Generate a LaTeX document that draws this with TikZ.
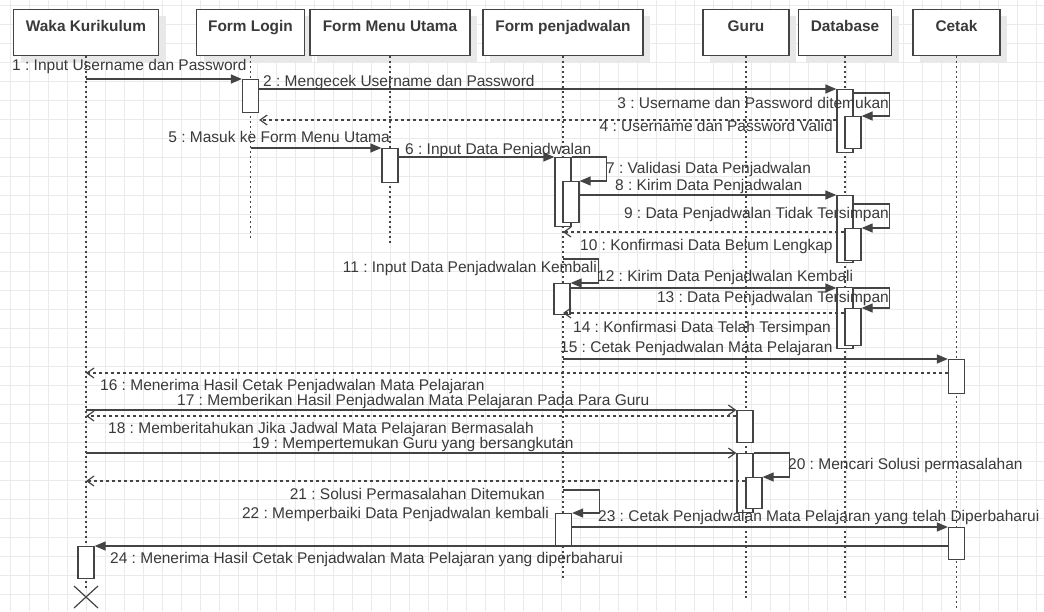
\documentclass[tikz,border=0pt]{standalone}
\usepackage{fontspec}
\setmainfont{Liberation Sans}
\usetikzlibrary{arrows.meta,shadows}
\definecolor{ink}{HTML}{444444}
\definecolor{txt}{HTML}{3A3A3A}
\definecolor{gridc}{HTML}{EAEAEA}
\definecolor{shadowc}{HTML}{E8E8E8}
\frenchspacing
\begin{document}
\begin{tikzpicture}[x=1pt,y=-1pt,
  font=\fontsize{15.5}{18}\selectfont, text=txt,
  hdr/.style={draw=ink, line width=1.3pt, fill=white, anchor=north, inner xsep=0pt, inner ysep=0pt,
    minimum height=46pt, text height=21.5pt, text depth=24.5pt,
    font=\fontsize{15.4}{18}\selectfont\bfseries,
    drop shadow={shadow xshift=7pt, shadow yshift=-6pt, fill=shadowc, opacity=1}},
  act/.style={draw=ink, line width=1.3pt, fill=white, minimum width=16pt, inner sep=0pt, anchor=north},
  life/.style={draw=ink, line width=1.5pt, dash pattern=on 2pt off 3pt},
  sync/.style={draw=ink, line width=1.3pt, -{Triangle[length=11pt,width=9pt]}},
  asyn/.style={draw=ink, line width=1.3pt, -{Straight Barb[length=7pt,width=10pt,line width=1.2pt]}},
  ret/.style={draw=ink, line width=1.3pt, dash pattern=on 3pt off 3pt, -{Straight Barb[length=7pt,width=10pt,line width=1.2pt,sep=0pt]}},
  lbl/.style={inner sep=0pt, text height=11pt, text depth=3pt}
]
\path[use as bounding box, fill=white] (0,0) rectangle (1044,611);
% grid
\foreach \gx in {10,29,...,1044} \draw[gridc, line width=0.8pt] (\gx,0) -- (\gx,611);
\foreach \gy in {5,24,...,611} \draw[gridc, line width=0.8pt] (0,\gy) -- (1044,\gy);

% headers
\node[hdr, minimum width=145pt] (hW) at (86,9) {Waka Kurikulum};
\node[hdr, minimum width=108pt] (hL) at (250.5,9) {Form Login};
\node[hdr, minimum width=160pt] (hM) at (390,9) {Form Menu Utama};
\node[hdr, minimum width=160pt] (hP) at (563,9) {Form penjadwalan};
\node[hdr, minimum width=86pt] (hG) at (746,9) {Guru};
\node[hdr, minimum width=93pt] (hD) at (845,9) {Database};
\node[hdr, minimum width=87pt] (hC) at (956.5,9) {Cetak};

% lifeline ends
\coordinate (eW) at (86,590);
\coordinate (eL) at (250.5,240);
\coordinate (eM) at (390,245);
\coordinate (eP) at (563,578);
\coordinate (eG) at (746,600);
\coordinate (eD) at (845,600);
\coordinate (eC) at (956.5,611);
\draw[life] (hW.south) -- (eW);
\draw[life] (hL.south) -- (eL);
\draw[life] (hM.south) -- (eM);
\draw[life] (hP.south) -- (eP);
\draw[life] (hG.south) -- (eG);
\draw[life] (hD.south) -- (eD);
\draw[life] (hC.south) -- (eC);

% activations
\node[act, minimum height=33pt] (aL1) at (250.5,79) {};
\node[act, minimum height=63pt] (aD1) at (845,89) {};
\node[act, minimum height=32pt] (aD1i) at (853,116) {};
\node[act, minimum height=34pt] (aM1) at (390,148) {};
\node[act, minimum height=69pt] (aP1) at (563,157) {};
\node[act, minimum height=41pt] (aP1i) at (571,181) {};
\node[act, minimum height=67pt] (aD2) at (845,195) {};
\node[act, minimum height=32pt] (aD2i) at (853,228) {};
\node[act, minimum height=31pt] (aP2) at (562,283) {};
\node[act, minimum height=61pt] (aD3) at (845,287) {};
\node[act, minimum height=37pt] (aD3i) at (853,308) {};
\node[act, minimum height=34pt] (aC1) at (956.5,359) {};
\node[act, minimum height=32pt] (aG1) at (745,410) {};
\node[act, minimum height=59pt] (aG2) at (745,453) {};
\node[act, minimum height=31pt] (aG2i) at (754,477) {};
\node[act, minimum height=32pt] (aP3) at (563.5,513) {};
\node[act, minimum height=32pt] (aC2) at (956.5,527) {};
\node[act, minimum height=32pt] (aW1) at (86,546) {};

% messages
\draw[sync] (hW |- aL1.north) -- (aL1.north west);
\draw[sync] (aL1.east |- aD1.north) -- (aD1.north west);
\draw[sync] ([yshift=-4pt]aD1.north east) -| ([xshift=28pt]aD1i.north east) -- (aD1i.north east);
\draw[ret] (aD1.west |- 0,120) -- (aL1.east |- 0,120);
\draw[sync] (hL |- aM1.north) -- (aM1.north west);
\draw[sync] (aM1.east |- aP1.north) -- (aP1.north west);
\draw[sync] (aP1.north east) -| ([xshift=27pt]aP1i.north east) -- (aP1i.north east);
\draw[sync] (aP1i.east |- aD2.north) -- (aD2.north west);
\draw[sync] ([yshift=-9pt]aD2.north east) -| ([xshift=28pt]aD2i.north east) -- (aD2i.north east);
\draw[ret] (aD2i.west |- 0,232) -- (hP |- 0,232);
\coordinate (s11) at (563,259);
\draw[sync] (s11) -| ([xshift=28pt]aP2.north east) -- (aP2.north east);
\draw[sync] (aP2.east |- 0,288) -- (aD3.west |- 0,288);
\draw[sync] ([yshift=-1pt]aD3.north east) -| ([xshift=28pt]aD3i.north east) -- (aD3i.north east);
\draw[ret] (aD3i.west |- 0,313) -- (hP |- 0,313);
\draw[sync] (hP |- aC1.north) -- (aC1.north west);
\draw[ret] (aC1.west |- 0,373) -- (hW |- 0,373);
\draw[asyn] (hW |- aG1.north) -- (aG1.north west);
\draw[ret] (aG1.west |- 0,416) -- (hW |- 0,416);
\draw[asyn] (hW |- aG2.north) -- (aG2.north west);
\draw[sync] (aG2.north east) -| ([xshift=27pt]aG2i.north east) -- (aG2i.north east);
\draw[ret] (aG2i.west |- 0,481) -- (hW |- 0,481);
\coordinate (s21) at (563,490);
\draw[sync] (s21) -| ([xshift=27pt]aP3.north east) -- (aP3.north east);
\draw[sync] (aP3.east |- aC2.north) -- (aC2.north west);
\draw[sync] (aC2.west |- aW1.north) -- (aW1.north east);

% destroy
\coordinate (xd) at (86,597);
\draw[ink, line width=1.2pt] (xd) ++(-12,-11) -- ++(24,22);
\draw[ink, line width=1.2pt] (xd) ++(12,-11) -- ++(-24,22);

% labels
\node[lbl, anchor=west] (t1) at (12,66) {1 : Input Username dan Password};
\node[lbl, anchor=west] (t2) at (263,82) {2 : Mengecek Username dan Password};
\node[lbl, anchor=east] (t3) at (889,104) {3 : Username dan Password ditemukan};
\node[lbl, anchor=east] (t4) at (833,127) {4 : Username dan Password Valid};
\node[lbl, anchor=east] (t5) at (390,138) {5 : Masuk ke Form Menu Utama};
\node[lbl, anchor=west] (t6) at (405,150) {6 : Input Data Penjadwalan};
\node[lbl, anchor=west] (t7) at (606,169) {7 : Validasi Data Penjadwalan};
\node[lbl, anchor=west] (t8) at (615,186) {8 : Kirim Data Penjadwalan};
\node[lbl, anchor=east] (t9) at (889,214) {9 : Data Penjadwalan Tidak Tersimpan};
\node[lbl, anchor=west] (t10) at (580,246) {10 : Konfirmasi Data Belum Lengkap};
\node[lbl, anchor=east] (t11) at (597,268) {11 : Input Data Penjadwalan Kembali};
\node[lbl, anchor=west] (t12) at (597,277) {12 : Kirim Data Penjadwalan Kembali};
\node[lbl, anchor=east] (t13) at (889,298) {13 : Data Penjadwalan Tersimpan};
\node[lbl, anchor=west] (t14) at (573,328) {14 : Konfirmasi Data Telah Tersimpan};
\node[lbl, anchor=west] (t15) at (560,348) {15 : Cetak Penjadwalan Mata Pelajaran};
\node[lbl, anchor=west] (t16) at (100,386) {16 : Menerima Hasil Cetak Penjadwalan Mata Pelajaran};
\node[lbl, anchor=west] (t17) at (177,401) {17 : Memberikan Hasil Penjadwalan Mata Pelajaran Pada Para Guru};
\node[lbl, anchor=west] (t18) at (108,429) {18 : Memberitahukan Jika Jadwal Mata Pelajaran Bermasalah};
\node[lbl, anchor=west] (t19) at (252,444) {19 : Mempertemukan Guru yang bersangkutan};
\node[lbl, anchor=west] (t20) at (788,465) {20 : Mencari Solusi permasalahan};
\node[lbl, anchor=east] (t21) at (545,495) {21 : Solusi Permasalahan Ditemukan};
\node[lbl, anchor=east] (t22) at (549,514) {22 : Memperbaiki Data Penjadwalan kembali};
\node[lbl, anchor=west] (t23) at (598,517) {23 : Cetak Penjadwalan Mata Pelajaran yang telah Diperbaharui};
\node[lbl, anchor=west] (t24) at (110,559) {24 : Menerima Hasil Cetak Penjadwalan Mata Pelajaran yang diperbaharui};
\end{tikzpicture}
\end{document}
